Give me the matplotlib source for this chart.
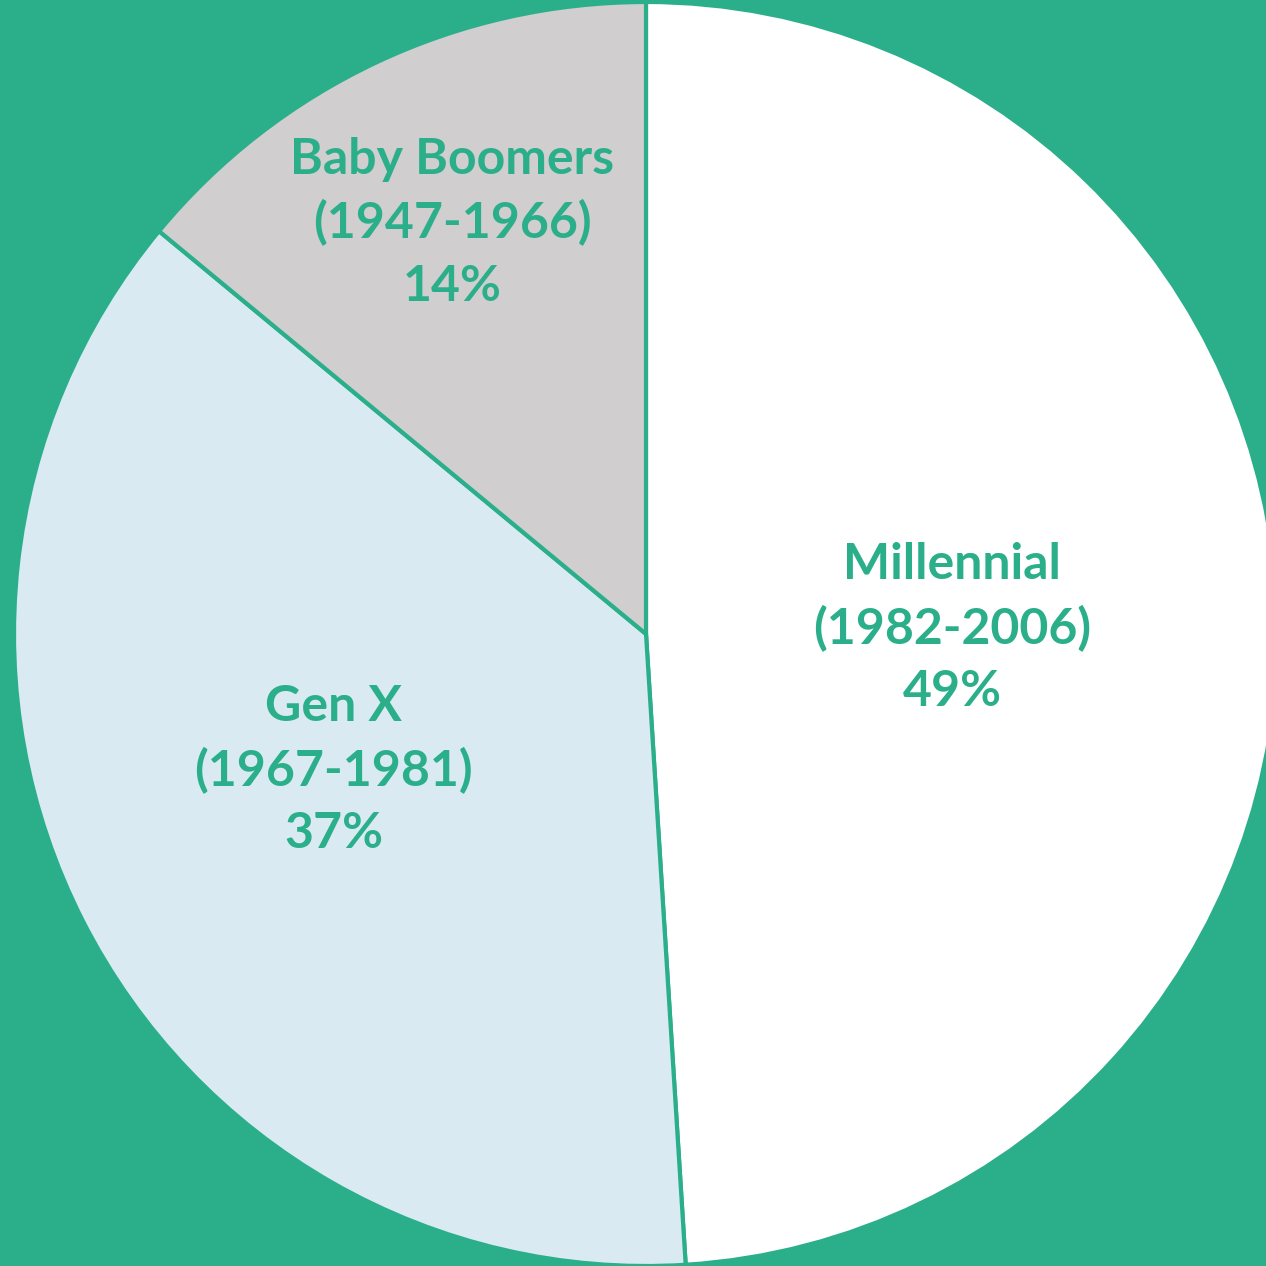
import matplotlib.pyplot as plt

# data
names = ["Millennial", "Gen X", "Baby Boomers"]
years = ["(1982-2006)", "(1967-1981)", "(1947-1966)"]
shares = [49, 37, 14]
colors = ["#FFFFFF", "#D9EAF3", "#D0CECE"]

green = "#2BAF8A"

fig = plt.figure(figsize=(12.66, 12.66), dpi=100, facecolor=green)
ax = fig.add_axes([0, 0, 1, 1])
ax.set_facecolor(green)

wedges, _ = ax.pie(shares, colors=colors, startangle=90, counterclock=False,
                   radius=1, wedgeprops=dict(edgecolor=green, linewidth=3))

# pie centre at ~(646, 634) px, radius ~632 px
cx, cy, r = 646, 634, 632
ax.set_xlim(-cx / r, (1266 - cx) / r)
ax.set_ylim(-(1266 - cy) / r, cy / r)
ax.set_aspect("auto")
ax.axis("off")

label_pos = [(0.484, 0.009), (-0.494, -0.215), (-0.307, 0.651)]
for name, yr, s, (x, y) in zip(names, years, shares, label_pos):
    ax.text(x, y, f"{name}\n{yr}\n{s}%", ha="center", va="center",
            color=green, fontsize=36, fontweight="bold", family="Lato",
            linespacing=1.46)

fig.savefig("out.png", dpi=100, facecolor=green)
